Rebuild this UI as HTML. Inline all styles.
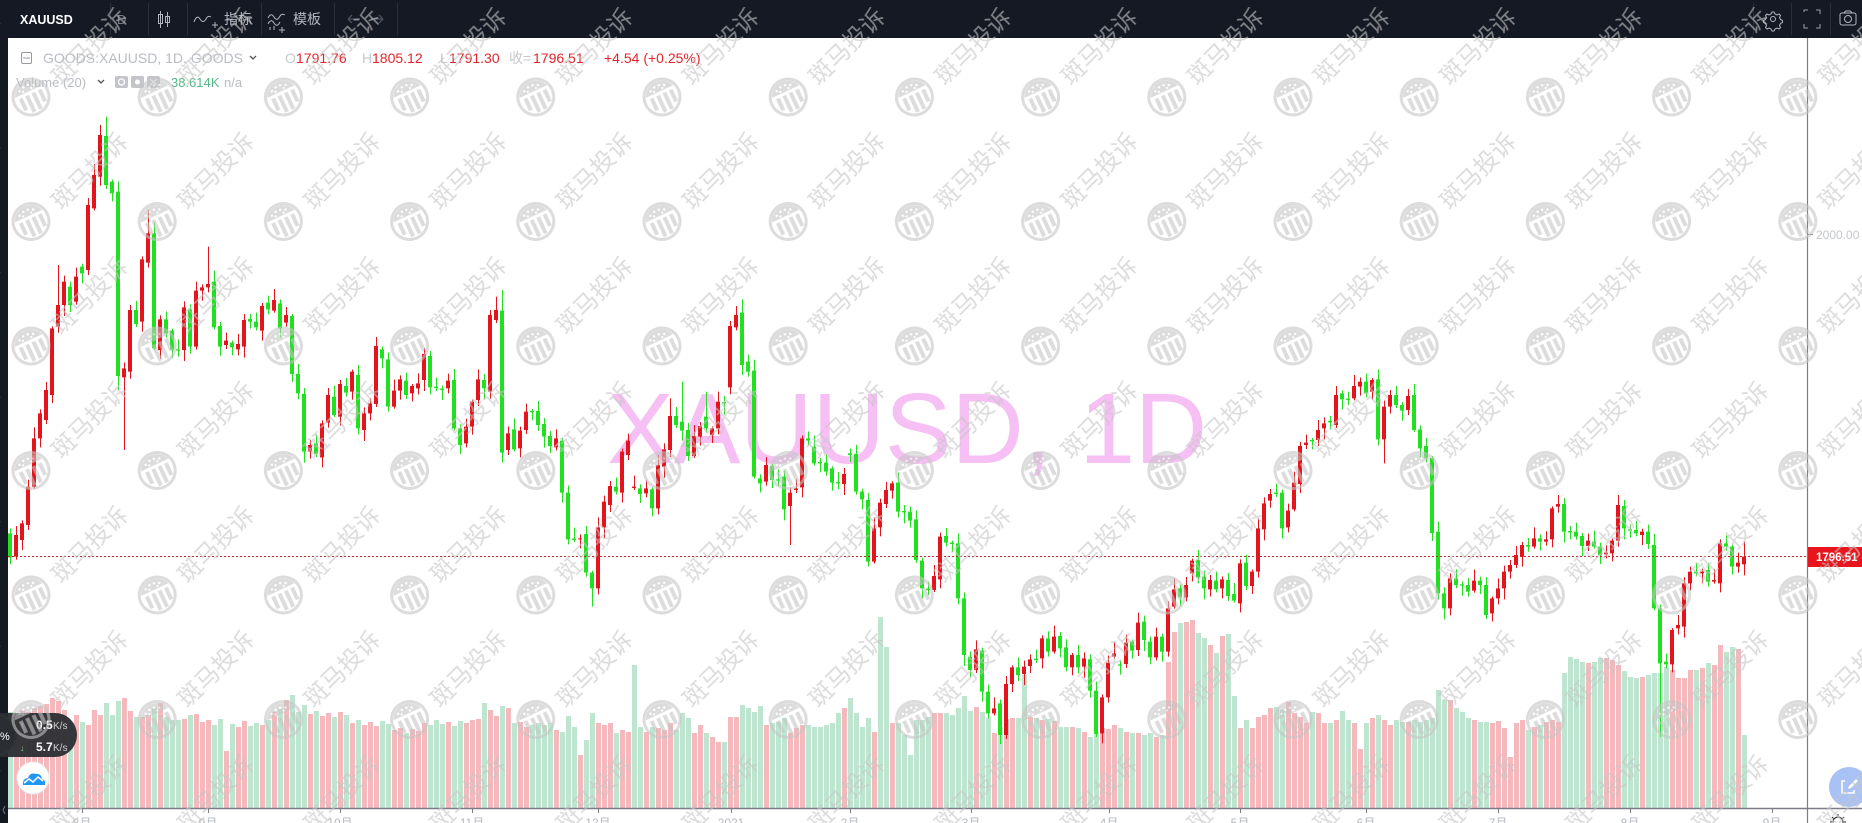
<!DOCTYPE html>
<html><head><meta charset="utf-8">
<style>
html,body{margin:0;padding:0;width:1862px;height:823px;overflow:hidden;background:#fff;}
svg{display:block}
</style></head><body>
<svg width="1862" height="823" viewBox="0 0 1862 823" xmlns="http://www.w3.org/2000/svg" font-family="Liberation Sans, Noto Sans CJK SC, sans-serif">
<defs>
<pattern id="wm" patternUnits="userSpaceOnUse" x="9" y="2" width="126.2" height="124.5">
 <g opacity="0.6">
  <g transform="translate(22,95) rotate(-25)" fill="#c4c4c4">
   <circle r="18" fill="none" stroke="#c4c4c4" stroke-width="3"/>
   <path d="M-15,-6 A16,16 0 0 1 15,-6 Z"/>
   <g fill="#fff"><circle cx="-8" cy="-10" r="1.2"/><circle cx="-3" cy="-12" r="1.2"/><circle cx="2" cy="-12" r="1.2"/><circle cx="7" cy="-10" r="1.2"/><circle cx="-5" cy="-8" r="1.1"/><circle cx="4" cy="-8" r="1.1"/></g>
   <rect x="-12" y="-3" width="4" height="13"/>
   <rect x="-5" y="-3" width="4" height="18"/>
   <rect x="2" y="-3" width="4" height="18"/>
   <rect x="9" y="-3" width="4" height="13"/>
  </g>
  <text x="79" y="43" transform="rotate(-45 79 43)" font-size="24" text-anchor="middle" dominant-baseline="central" fill="#c4c4c4" font-family="Noto Sans CJK SC, sans-serif">斑马投诉</text>
 </g>
</pattern>
</defs>
<rect width="1862" height="823" fill="#fff"/>

<!-- big pink symbol text -->
<text x="607" y="463" font-size="100" fill="#f6c0f4" font-family="Liberation Sans, sans-serif">XAUUSD, 1D</text>

<!-- volume -->
<g transform="translate(0.5,0)" stroke-width="5" fill="none">
<path stroke="#f5b8bd" d="M16 808V714M22 808V710M28 808V712M34 808V708M40 808V706M46 808V704M52 808V698M58 808V701M64 808V710M76 808V715M88 808V725M94 808V710M100 808V715M124 808V698M130 808V711M142 808V717M148 808V715M160 808V703M184 808V719M196 808V714M202 808V722M208 808V720M226 808V751M238 808V727M244 808V721M262 808V725M274 808V712M286 808V700M310 808V714M322 808V716M328 808V713M340 808V712M352 808V723M364 808V725M370 808V722M376 808V726M394 808V730M400 808V728M412 808V729M418 808V731M424 808V723M448 808V722M466 808V723M472 808V720M478 808V719
M490 808V710M496 808V716M508 808V708M520 808V722M526 808V727M556 808V730M580 808V755M598 808V723M604 808V725M610 808V723M622 808V730M628 808V732M646 808V732M658 808V728M664 808V730M670 808V723M694 808V733M700 808V725M712 808V737M718 808V742M730 808V717M736 808V717M766 808V725M790 808V733M796 808V728M802 808V725M844 808V708M874 808V732M892 808V723M934 808V713M940 808V713
M976 808V707M994 808V733M1006 808V719M1012 808V718M1030 808V717M1042 808V720M1054 808V721M1072 808V727M1084 808V732M1102 808V728M1108 808V729M1114 808V725M1126 808V732M1138 808V733M1156 808V737M1168 808V662M1174 808V632M1186 808V622M1192 808V620M1210 808V645M1222 808V636M1240 808V728M1252 808V728M1258 808V717M1264 808V715M1270 808V708M1288 808V702M1294 808V713M1300 808V717M1306 808V723M1318 808V713M1324 808V723M1336 808V720M1354 808V723M1360 808V749M1372 808V718M1384 808V720M1390 808V725M1408 808V722
M1450 808V700M1474 808V720M1492 808V723M1498 808V721M1504 808V728M1510 808V757M1516 808V723M1522 808V720M1534 808V727M1546 808V722M1552 808V720M1558 808V722M1588 808V663M1606 808V658M1612 808V660M1618 808V665M1642 808V677M1672 808V670M1678 808V678M1684 808V678M1690 808V670M1702 808V668M1714 808V665M1720 808V645M1738 808V649"/>
<path stroke="#bee5d0" d="M10 808V712M70 808V722M82 808V722M106 808V703M112 808V715M118 808V701M136 808V717M154 808V708M166 808V717M172 808V720M178 808V720M190 808V715M214 808V725M220 808V719M232 808V724M250 808V726M256 808V723M268 808V720M280 808V709M292 808V695M298 808V712M304 808V705M316 808V711M334 808V717M346 808V715M358 808V720M382 808V721M388 808V724M406 808V733M430 808V725M436 808V720M442 808V724M454 808V726M460 808V721
M484 808V703M502 808V706M514 808V723M532 808V725M538 808V723M544 808V725M550 808V723M562 808V732M568 808V716M574 808V727M586 808V740M592 808V713M616 808V733M634 808V665M640 808V727M652 808V727M676 808V730M682 808V713M688 808V718M706 808V733M724 808V742M742 808V705M748 808V708M754 808V712M760 808V706M772 808V723M778 808V722M784 808V718M808 808V725M814 808V727M820 808V727M826 808V725M832 808V723M838 808V713M850 808V698M856 808V713M862 808V727M868 808V718M880 808V617M886 808V647M898 808V723M904 808V735M910 808V755M916 808V720M922 808V720M928 808V717M946 808V713M952 808V715
M958 808V708M964 808V696M970 808V711M982 808V712M988 808V718M1000 808V727M1018 808V718M1024 808V675M1036 808V718M1048 808V719M1060 808V727M1066 808V727M1078 808V728M1090 808V737M1096 808V732M1120 808V728M1132 808V733M1144 808V735M1150 808V733M1162 808V735M1180 808V623M1198 808V633M1204 808V638M1216 808V653M1228 808V634M1234 808V696M1246 808V720M1276 808V707M1282 808V710M1312 808V712M1330 808V723M1342 808V711M1348 808V720M1366 808V723M1378 808V715M1396 808V720M1402 808V722M1414 808V720M1420 808V722M1426 808V720
M1432 808V718M1438 808V690M1444 808V700M1456 808V708M1462 808V712M1468 808V718M1480 808V722M1486 808V722M1528 808V730M1540 808V725M1564 808V673M1570 808V657M1576 808V659M1582 808V662M1594 808V662M1600 808V658M1624 808V671M1630 808V677M1636 808V678M1648 808V675M1654 808V673M1660 808V673M1666 808V667M1696 808V670M1708 808V663M1726 808V652M1732 808V647M1744 808V735"/>
</g>

<!-- candles segment A -->
<g transform="translate(0,100) scale(1,0.3333333)" fill="none">
<path stroke="#e3141b" stroke-width="4" d="M16 1370V1305M22 1320V1270M28 1275V1160M34 1160V1015M40 1015V940M46 960V870M52 885V685M58 680V615M64 615V545M76 605V530M88 510V315M94 325V225M100 230V105M124 832V805M130 815V630M142 665V478M148 488V400M160 750V658M184 750V622M196 740V572M202 572V562M208 562V552M226 735V722M238 748V732M244 740V660M262 692V618M274 632V600M286 668V645M310 1055V1035M322 1072V970M328 968V885M340 950V852M352 875V815M364 990V940M370 940V910M376 912V738M394 920V872M400 872V838M412 880V858M418 865V850M424 840V762M448 865V842M466 1030V980M472 980V905M478 900V838"/>
<path stroke="#20e020" stroke-width="4" d="M10 1300V1372M70 560V615M82 500V520M106 108V255M112 245V280M118 275V828M136 630V672M154 400V745M166 658V700M172 692V750M178 748V752M190 628V740M214 545V682M220 678V740M232 728V742M250 657V665M256 665V682M268 608V628M280 610V685M292 648V822M298 822V880M304 882V1055M316 1030V1062M334 890V945M346 858V878M358 825V985M382 748V775M388 778V920M406 842V885M430 768V862M436 860V864M442 866V870M454 840V985M460 985V1035M484 840V865"/>
<g transform="translate(0.5,0)" stroke-width="1">
<path stroke="#e3141b" d="M16 1278V1379M22 1261V1350M28 1139V1290M34 982V1166M40 928V1042M46 846V972M52 679V909M58 495V698M64 527V648M76 503V614M88 294V525M94 192V331M100 75V257M124 787V1050M130 615V836M142 469V695M148 330V503M160 646V777M184 604V783M196 545V749M202 553V602M208 440V577M226 698V747M238 702V766M244 642V773M262 609V722M274 567V638M286 621V680M310 1020V1076M322 961V1102M328 864V983M340 840V977M352 809V899M364 922V1023M370 895V961M376 711V921M394 839V926M400 826V899M412 852V904M418 820V883M424 744V873M448 821V880M466 956V1042M472 899V1004M478 808V918"/>
<path stroke="#20e020" d="M10 1285V1393M70 545V636M82 491V550M106 50V267M112 239V304M118 245V870M136 603V681M154 367V751M166 634V712M172 686V774M178 718V770M190 613V761M214 512V688M220 666V767M232 722V766M250 642V686M256 638V691M268 587V643M280 598V712M292 642V846M298 792V898M304 864V1088M316 1003V1071M334 857V951M346 834V890M358 795V1003M382 739V805M388 757V935M406 818V897M430 753V883M436 833V873M442 857V900M454 807V991M460 973V1062M484 822V898"/>
</g>
</g>

<!-- candles segment B -->
<g transform="translate(0,280) scale(1,0.3333333)" fill="none">
<path stroke="#e3141b" stroke-width="4" d="M490 335V105M496 120V90M508 510V460M520 505V452M526 450V395M556 502V475M580 778V775M598 925V742M604 742V665M610 675V618M622 638V515M628 525V482M634 624V620M646 640V625M658 685V555M664 560V508M670 510V408M694 528V468M700 470V438M712 465V445M718 445V365M730 322V138M736 142V105M766 605V555M790 678V638M796 630V625M802 622V475M844 612V582M874 845V745M880 742V668M886 672V630M892 632V610M934 930V888M940 898V770"/>
<path stroke="#20e020" stroke-width="4" d="M502 92V518M514 448V508M532 393V397M538 393V435M544 432V470M550 468V498M562 482V638M568 638V778M574 776V780M586 762V878M592 878V925M616 620V635M640 625V642M652 628V685M676 408V435M682 425V452M688 450V528M706 410V445M724 366V370M742 98V255M748 245V275M754 272V590M760 595V610M772 558V600M778 598V602M784 590V688M808 475V482M814 500V550M820 546V550M826 548V575M832 565V608M838 606V610M850 520V525M856 522V635M862 635V658M868 660V845M898 608V695M904 693V697M910 695V722M916 718V840M922 842V925M928 926V930M946 768V788M952 788V792"/>
<g transform="translate(0.5,0)" stroke-width="1">
<path stroke="#e3141b" d="M490 90V356M496 50V129M508 439V525M520 440V532M526 371V462M556 448V511M580 763V805M598 712V943M604 647V775M610 603V696M622 506V668M628 461V540M634 587V630M646 601V652M658 525V703M664 490V593M670 355V531M694 435V534M700 426V497M712 439V489M718 335V463M730 123V343M736 78V151M766 531V617M790 623V795M796 598V639M802 466V652M844 564V645M874 712V851M880 656V769M886 606V684M892 604V656M934 855V936M940 758V925"/>
<path stroke="#20e020" d="M502 30V548M514 415V514M532 387V421M538 363V453M544 414V503M550 453V519M562 473V668M568 617V793M574 743V786M586 738V890M592 872V980M616 593V644M640 613V669M652 622V709M676 381V444M682 305V482M688 429V543M706 335V457M724 348V403M742 58V285M748 224V290M754 239V596M760 583V637M772 552V624M778 568V620M784 572V721M808 454V497M814 467V556M820 534V577M826 524V587M832 559V632M838 576V628M850 505V546M856 495V644M862 626V688M868 639V860M898 578V713M904 675V730M910 680V743M916 691V849M922 833V955M928 905V945M946 744V800M952 782V816"/>
</g>
</g>

<!-- candles segment C -->
<g transform="translate(0,340) scale(1,0.3333333)" fill="none">
<path stroke="#e3141b" stroke-width="4" d="M976 990V928M994 1120V1105M1006 1185V1032M1012 1032V982M1024 1002V980M1030 978V958M1042 955V895M1054 935V890M1072 982V945M1084 980V955M1102 1180V1072M1108 1072V968M1114 950V940M1126 972V908M1138 930V848M1156 952V890M1168 935V805M1174 800V748M1186 772V735M1192 700V662M1210 748V720M1222 745V718M1240 790V670M1252 738V695M1258 695V565M1264 568V490M1270 482V462M1288 562V512M1294 508V428M1300 432V318M1306 315V308M1318 300V270M1324 265V250M1336 255V165M1354 175V138M1360 140V125M1372 155V120M1384 298V200M1390 200V165M1408 210V168"/>
<path stroke="#20e020" stroke-width="4" d="M958 610V775M964 775V945M970 950V990M982 932V1055M988 1055V1120M1000 1090V1185M1018 982V1005M1036 956V960M1048 895V935M1060 888V925M1066 922V982M1078 945V982M1090 958V1052M1096 1052V1182M1120 973V977M1132 905V932M1144 845V900M1150 905V952M1162 890V935M1180 745V772M1198 660V712M1204 710V745M1216 722V748M1228 720V768M1234 762V782M1246 668V738M1276 458V462M1282 458V565M1312 300V304M1330 243V247M1342 160V178M1348 176V180M1366 125V160M1378 118V298M1396 165V195M1402 195V212M1414 165V270M1420 268V325M1426 318V355"/>
<g transform="translate(0.5,0)" stroke-width="1">
<path stroke="#e3141b" d="M976 901V999M994 1072V1126M1006 1008V1197M1012 976V1056M1024 962V1035M1030 943V999M1042 886V985M1054 857V941M1072 939V1006M1084 937V1013M1102 1063V1210M1108 947V1087M1114 907V956M1126 884V984M1138 818V948M1156 863V961M1168 784V950M1174 715V806M1186 711V784M1192 656V724M1210 705V769M1222 709V775M1240 658V817M1252 689V762M1258 535V713M1264 472V601M1270 447V503M1288 491V577M1294 395V514M1300 306V459M1306 284V327M1318 240V318M1324 232V298M1336 138V264M1354 105V181M1360 113V167M1372 114V179M1384 182V370M1390 150V221M1408 147V225"/>
<path stroke="#20e020" d="M958 580V793M964 757V978M970 935V1011M982 923V1085M988 1034V1135M1000 1078V1212M1018 952V1023M1036 929V969M1048 874V950M1060 876V952M1066 898V994M1078 915V1000M1090 943V1073M1096 1025V1191M1120 961V1004M1132 899V956M1144 827V933M1150 890V973M1162 881V965M1180 733V799M1198 630V730M1204 692V778M1216 695V757M1228 699V783M1234 729V788M1246 644V750M1276 431V471M1282 449V595M1312 294V328M1330 228V268M1342 151V208M1348 155V195M1366 101V172M1378 88V316M1396 138V204M1402 186V242M1414 132V276M1420 256V352M1426 294V367"/>
</g>
</g>

<!-- candles segment D -->
<g transform="translate(0,500) scale(1,0.3333333)" fill="none">
<path stroke="#e3141b" stroke-width="4" d="M1450 325V235M1474 272V242M1492 340V295M1498 295V265M1504 265V215M1510 215V195M1516 195V165M1522 170V135M1534 140V115M1546 125V118M1552 118V25M1558 20V12M1588 138V122M1606 163V158M1612 160V122M1618 122V15M1642 105V95M1672 493V390M1678 385V375M1684 380V250M1690 250V215M1702 220V215M1714 245V240M1720 250V130M1738 200V188M1744 193V170"/>
<path stroke="#20e020" stroke-width="4" d="M1432 -126V99M1438 95V280M1444 280V325M1456 235V255M1462 253V257M1468 255V275M1480 242V255M1486 255V345M1528 135V140M1540 115V125M1564 12V95M1570 93V97M1576 95V110M1582 108V138M1594 125V140M1600 140V165M1624 18V85M1630 88V92M1636 90V100M1648 95V132M1654 135V325M1660 325V490M1666 485V493M1696 215V220M1708 210V245M1726 130V140M1732 140V200"/>
<g transform="translate(0.5,0)" stroke-width="1">
<path stroke="#e3141b" d="M1450 220V346M1474 209V278M1492 289V364M1498 235V313M1504 197V298M1510 180V236M1516 138V204M1522 126V200M1534 82V146M1546 94V137M1552 19V142M1558 -15V38M1588 101V153M1606 136V175M1612 116V184M1618 -15V140M1642 86V135M1672 384V517M1678 345V403M1684 232V413M1690 200V271M1702 206V250M1714 207V251M1720 118V277M1738 158V218M1744 125V226"/>
<path stroke="#20e020" d="M1432 -132V123M1438 65V298M1444 262V358M1456 208V264M1462 244V287M1468 234V290M1480 230V282M1486 231V357M1528 114V155M1540 103V152M1564 -6V128M1570 78V118M1576 68V119M1582 99V168M1594 92V146M1600 128V192M1624 0V118M1630 73V113M1636 63V109M1648 74V147M1654 102V331M1660 313V710M1666 461V505M1696 188V229M1708 189V260M1726 106V152M1732 134V224"/>
</g>
</g>

<!-- price line -->
<line x1="8" y1="556.5" x2="1807" y2="556.5" stroke="#c62828" stroke-width="1" stroke-dasharray="2,2"/>

<!-- axes -->
<line x1="1807.5" y1="38" x2="1807.5" y2="823" stroke="#7b7e87" stroke-width="1.2"/>
<line x1="8" y1="808.5" x2="1862" y2="808.5" stroke="#7b7e87" stroke-width="1.4"/>
<line x1="1808" y1="234.5" x2="1813" y2="234.5" stroke="#7b7e87"/>
<text x="1816" y="239" font-size="12" fill="#c4c6cc">2000.00</text>
<rect x="1808" y="547" width="54" height="20" fill="#e8161c"/>
<text x="1816" y="561" font-size="11.5" font-weight="bold" fill="#fff">1796.51</text>

<g stroke="#7b7e87" stroke-width="1">
<line x1="82.5" y1="809" x2="82.5" y2="813"/><line x1="208.5" y1="809" x2="208.5" y2="813"/><line x1="340.5" y1="809" x2="340.5" y2="813"/><line x1="472.5" y1="809" x2="472.5" y2="813"/><line x1="598.5" y1="809" x2="598.5" y2="813"/><line x1="731.5" y1="809" x2="731.5" y2="813"/><line x1="850.5" y1="809" x2="850.5" y2="813"/><line x1="971.5" y1="809" x2="971.5" y2="813"/><line x1="1109.5" y1="809" x2="1109.5" y2="813"/><line x1="1240.5" y1="809" x2="1240.5" y2="813"/><line x1="1366.5" y1="809" x2="1366.5" y2="813"/><line x1="1498.5" y1="809" x2="1498.5" y2="813"/><line x1="1630.5" y1="809" x2="1630.5" y2="813"/><line x1="1772.5" y1="809" x2="1772.5" y2="813"/>
</g>
<g font-size="12" fill="#b5b8bf" text-anchor="middle">
<text x="82" y="827">8月</text><text x="208" y="827">9月</text><text x="340" y="827">10月</text><text x="472" y="827">11月</text><text x="598" y="827">12月</text><text x="731" y="827">2021</text><text x="850" y="827">2月</text><text x="971" y="827">3月</text><text x="1109" y="827">4月</text><text x="1240" y="827">5月</text><text x="1366" y="827">6月</text><text x="1498" y="827">7月</text><text x="1630" y="827">8月</text><text x="1772" y="827">9月</text>
</g>

<!-- header legend -->
<rect x="21.5" y="52.5" width="10" height="11" rx="1.5" fill="none" stroke="#9598a1"/>
<line x1="23" y1="58" x2="30" y2="58" stroke="#9598a1"/>
<text x="43" y="63" font-size="14" fill="#b9bcc4">GOODS:XAUUSD, 1D, GOODS</text>
<path d="M250,56 l3,3 l3,-3" fill="none" stroke="#555" stroke-width="1.3"/>
<g font-size="14">
<text x="285" y="63" fill="#c6c8ce">O</text><text x="296" y="63" fill="#e1262c">1791.76</text>
<text x="362" y="63" fill="#c6c8ce">H</text><text x="372" y="63" fill="#e1262c">1805.12</text>
<text x="440" y="63" fill="#c6c8ce">L</text><text x="449" y="63" fill="#e1262c">1791.30</text>
<text x="509" y="63" fill="#c6c8ce">收=</text><text x="533" y="63" fill="#e1262c">1796.51</text>
<text x="604" y="63" fill="#e1262c">+4.54 (+0.25%)</text>
</g>
<text x="16" y="87" font-size="13" fill="#b9bcc4">Volume (20)</text>
<path d="M98,80 l3,3 l3,-3" fill="none" stroke="#555" stroke-width="1.3"/>
<rect x="115" y="76" width="13" height="12" rx="2" fill="#c3c5cb"/><circle cx="121.5" cy="82" r="3" fill="none" stroke="#fff" stroke-width="1.3"/>
<rect x="131" y="76" width="13" height="12" rx="2" fill="#c3c5cb"/><circle cx="137.5" cy="82" r="2.5" fill="#fff"/>
<rect x="147" y="76" width="13" height="12" rx="2" fill="#c3c5cb"/><path d="M150,79 l7,6 M157,79 l-7,6" stroke="#fff" stroke-width="1.3"/>
<text x="171" y="87" font-size="13" fill="#53b987">38.614K</text>
<text x="224" y="87" font-size="13" fill="#b9bcc4">n/a</text>

<!-- top toolbar -->
<rect x="0" y="0" width="1862" height="38" fill="#151924"/>
<rect x="0" y="38" width="8" height="785" fill="#151924"/>
<text x="20" y="24" font-size="12.5" font-weight="bold" fill="#fff">XAUUSD</text>
<text x="117" y="24" font-size="13" fill="#787b86">D</text>
<g stroke="#2a2e39" stroke-width="1">
<line x1="110.5" y1="3" x2="110.5" y2="35"/><line x1="148.5" y1="3" x2="148.5" y2="35"/><line x1="187.5" y1="3" x2="187.5" y2="35"/><line x1="261.5" y1="3" x2="261.5" y2="35"/><line x1="334.5" y1="3" x2="334.5" y2="35"/><line x1="397.5" y1="3" x2="397.5" y2="35"/><line x1="1753.5" y1="3" x2="1753.5" y2="35"/><line x1="1791.5" y1="3" x2="1791.5" y2="35"/><line x1="1830.5" y1="3" x2="1830.5" y2="35"/>
</g>
<g stroke="#b2b5be" fill="none" stroke-width="1">
<line x1="160.5" y1="11" x2="160.5" y2="28"/><rect x="158.5" y="14.5" width="4" height="9"/>
<line x1="167.5" y1="12" x2="167.5" y2="27"/><rect x="165.5" y="16.5" width="4" height="6"/>
<path d="M194,22 q3,-8 6,-3 q3,5 6,0 q2,-4 5,-2"/><path d="M212,25 h6 M215,22 v6"/>
<path d="M268,18 q3,-6 6,-1 q3,5 6,-1 q2,-3 5,-1 M268,24 q3,-6 6,-1 q3,5 6,-1"/><path d="M270,30 v-3 M274,30 v-4 M279,30 h6 M282,27 v6"/>
<path d="M1772,12 l2,0 l1,2 l2,1 l2,-1 l1.5,1.5 l-1,2 l1,2 l2,1 v2 l-2,1 l-1,2 l1,2 l-1.5,1.5 l-2,-1 l-2,1 l-1,2 h-2 l-1,-2 l-2,-1 l-2,1 l-1.5,-1.5 l1,-2 l-1,-2 l-2,-1 v-2 l2,-1 l1,-2 l-1,-2 l1.5,-1.5 l2,1 l2,-1 z"/>
<circle cx="1773" cy="19" r="2.5"/>
<path d="M1804,12 v-2 h4 M1816,10 h4 v4 M1820,24 v4 h-4 M1808,28 h-4 v-4" stroke="#9a9da6"/>
<rect x="1840" y="13" width="16" height="12" rx="2"/><circle cx="1848" cy="19" r="3.5"/><path d="M1844,13 l1.5,-2 h5 l1.5,2"/>
</g>
<g font-size="14" fill="#b2b5be" font-family="Noto Sans CJK SC, sans-serif">
<text x="224" y="24">指标</text><text x="293" y="24">模板</text>
</g>
<g stroke="#4b4f5a" fill="none" stroke-width="1.3">
<path d="M348,19 h12 M348,19 l4,-4 M348,19 l4,4"/><path d="M371,19 h12 M383,19 l-4,-4 M383,19 l-4,4"/>
</g>

<!-- bottom-left widgets -->
<circle cx="-4" cy="735" r="20" fill="#1f2a27" stroke="#3bb273" stroke-width="2"/>
<rect x="-20" y="713" width="97" height="44" rx="22" fill="#2b2d33" opacity="0.95"/>
<text x="0" y="740" font-size="11" fill="#fff">%</text>
<text x="20" y="728" font-size="9" fill="#8ab4f8">↑</text>
<text x="36" y="729" font-size="12" font-weight="bold" fill="#fff">0.5</text><text x="53" y="729" font-size="10" fill="#cfcfcf">K/s</text>
<text x="20" y="751" font-size="9" fill="#8fd19e">↓</text>
<text x="36" y="751" font-size="12" font-weight="bold" fill="#fff">5.7</text><text x="53" y="751" font-size="10" fill="#cfcfcf">K/s</text>
<circle cx="33" cy="778" r="16" fill="#fff" stroke="#e8e8e8"/>
<path d="M23,785 q-1,-6 5,-7 q2,-6 8,-4 q5,-1 6,5 q4,1 3,6 z" fill="#2196f3"/>
<path d="M24,783 l5,-4 l4,3 l5,-5 l5,4" fill="none" stroke="#fff" stroke-width="1.5"/>
<path d="M5,806 l-2,4 l2,4" fill="none" stroke="#777" stroke-width="1"/>

<!-- bottom-right -->
<circle cx="1849" cy="787" r="20" fill="#a9c2f5"/>
<path d="M1845,781 h-3 v12 h12 v-3" fill="none" stroke="#fff" stroke-width="1.6"/>
<path d="M1848,789 l1,-3 l7,-7 l2,2 l-7,7 z" fill="#fff"/>
<g stroke="#222" fill="none" stroke-width="1"><circle cx="1838" cy="822" r="5"/><path d="M1838,814 v2 M1832,817 l1.5,1.5 M1844,817 l-1.5,1.5 M1830,822 h2 M1844,822 h2"/></g>

<!-- watermark overlay -->
<rect x="0" y="0" width="1862" height="823" fill="url(#wm)"/>
</svg>
</body></html>
